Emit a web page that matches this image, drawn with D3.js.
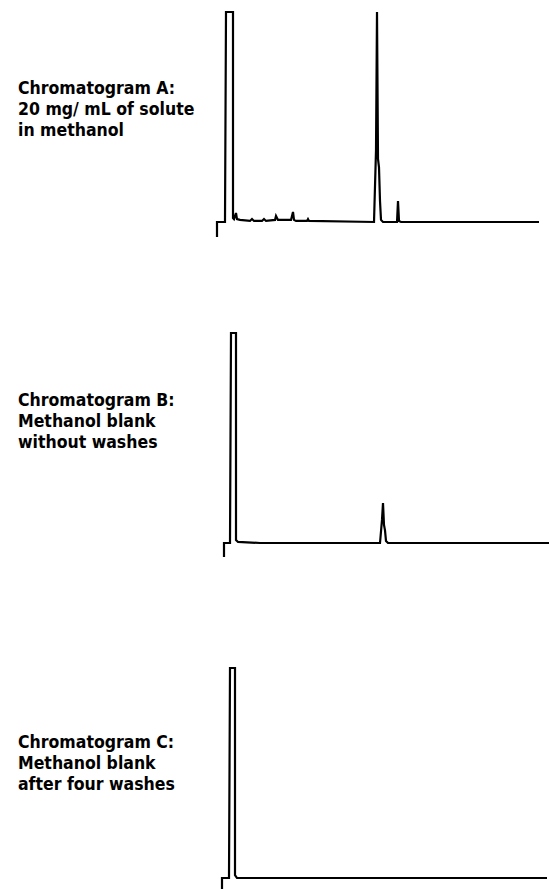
<!DOCTYPE html>
<html>
<head>
<meta charset="utf-8">
<script src="https://cdn.jsdelivr.net/npm/d3@7"></script>
<style>
  body { margin: 0; background: #fff; }
  svg { display: block; }
  .label {
    font-family: "DejaVu Sans Condensed", "DejaVu Sans", sans-serif;
    font-stretch: condensed;
    font-weight: bold;
    font-size: 17.5px;
    fill: #000;
  }
</style>
</head>
<body>
<svg id="chart" width="549" height="889"></svg>
<script>
// retention time (min) and detector signal (% of full scale)
var timeA   = [0, 0, 0.8, 0.9, 1.6, 1.6, 1.7, 1.9, 2.0, 2.3, 3.3, 3.5, 3.7, 4.5, 4.7, 4.9, 5.8, 5.9, 6.1, 7.4, 7.6, 7.7, 7.9, 9.0, 9.1, 9.2, 15.7, 15.9, 16.0, 16.1, 16.2, 16.3, 16.4, 16.6, 18.0, 18.1, 18.2, 18.4, 32.2];
var signalA = [-7.1, 0, 0, 100, 100, 1.9, 1.4, 4.3, 1.4, 1.0, 0.5, 1.4, 0.5, 0.5, 1.4, 0.5, 1.0, 2.9, 1.0, 1.0, 4.8, 1.0, 0.5, 0.5, 1.4, 0.5, 0, 34, 100, 30, 26, 10, 1, 0, 0, 10, 0.5, 0, 0];

var timeB   = [0.7, 0.7, 1.3, 1.4, 1.9, 1.9, 2.1, 4.3, 16.3, 16.5, 16.6, 16.7, 16.8, 16.9, 17.1, 33.2];
var signalB = [-6.7, 0, 0, 100, 100, 1.4, 0.5, 0, 0, 11, 19, 8.6, 6, 1, 0, 0];

var timeC   = [0.5, 0.5, 1.2, 1.3, 1.8, 1.8, 2.0, 33.0];
var signalC = [-5.2, 0, 0, 100, 100, 1.4, 0, 0];

var labelsA = ["Chromatogram A:", "20 mg/ mL of solute", "in methanol"];
var labelsB = ["Chromatogram B:", "Methanol blank", "without washes"];
var labelsC = ["Chromatogram C:", "Methanol blank", "after four washes"];

var panels = [
    {time: timeA, signal: signalA, labels: labelsA, base: 222, top: 12, textY: 94},
    {time: timeB, signal: signalB, labels: labelsB, base: 543, top: 333, textY: 406},
    {time: timeC, signal: signalC, labels: labelsC, base: 878, top: 668, textY: 748}
];

var svg = d3.select("#chart");

// same time axis for all three runs
var xs = d3.scaleLinear().domain([0, 33]).range([217, 547]);

panels.forEach(function(p) {
    var ys = d3.scaleLinear().domain([0, 100]).range([p.base, p.top]);

    var pts = p.time.map(function(t, i) { return [t, p.signal[i]]; });

    var line = d3.line()
        .x(function(d) { return xs(d[0]); })
        .y(function(d) { return ys(d[1]); });

    svg.append("path")
        .datum(pts)
        .attr("d", line)
        .attr("fill", "none")
        .attr("stroke", "#000")
        .attr("stroke-width", 2.2)
        .attr("stroke-linejoin", "miter");

    svg.append("g")
        .selectAll("text")
        .data(p.labels)
        .enter()
        .append("text")
            .attr("class", "label")
            .attr("x", 18)
            .attr("y", function(d, i) { return p.textY + i * 21; })
            .text(function(d) { return d; });
});
</script>
</body>
</html>
